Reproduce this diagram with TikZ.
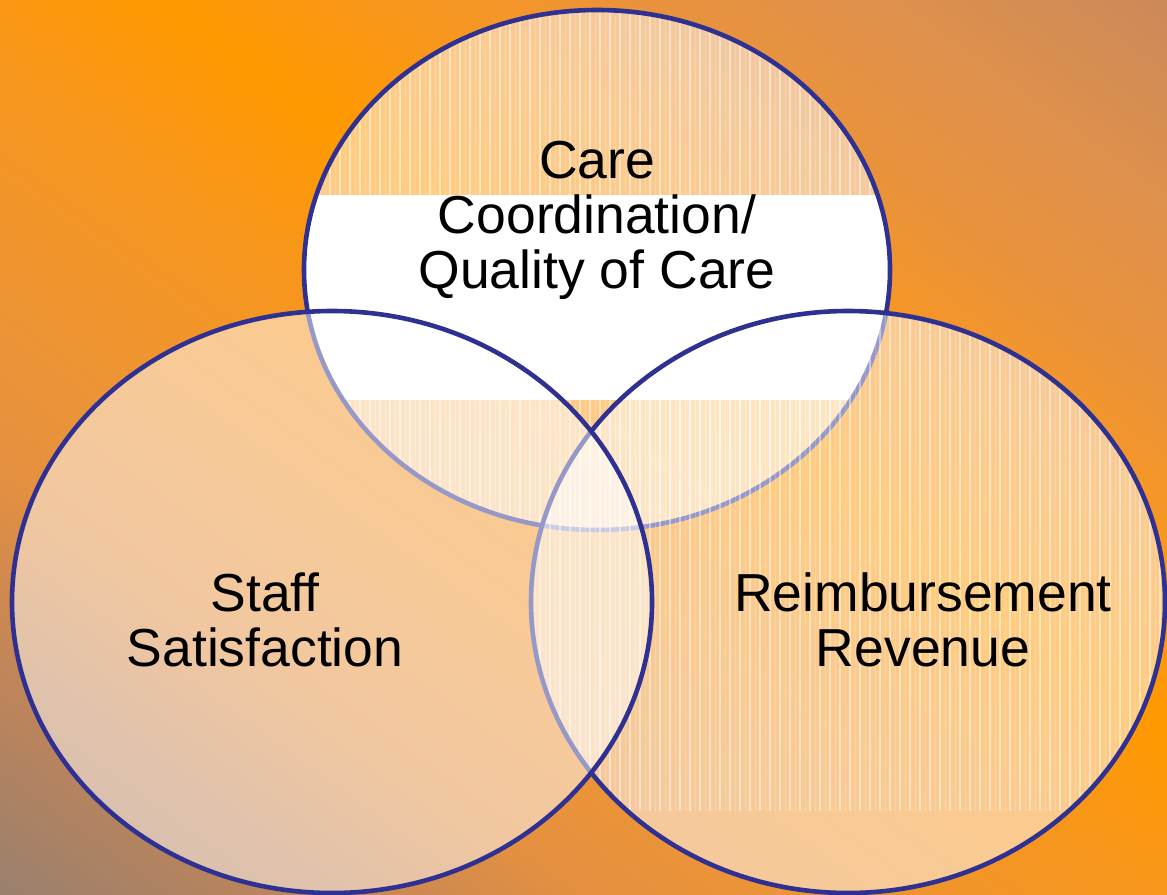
\documentclass[tikz,border=0pt]{standalone}
\usepackage{fontspec}
\setmainfont{Liberation Sans}

% outline and background colours
\definecolor{navyline}{RGB}{46,49,146}
\definecolor{bgA}{RGB}{140,126,116}
\definecolor{bgB}{RGB}{150,128,112}
\definecolor{bgC}{RGB}{175,130,98}
\definecolor{bgD}{RGB}{200,135,85}
\definecolor{bgE}{RGB}{228,144,64}
\definecolor{bgF}{RGB}{236,148,54}
\definecolor{bgG}{RGB}{247,150,30}
\definecolor{bgH}{RGB}{255,153,0}
\definecolor{bgI}{RGB}{245,150,40}
\definecolor{bgJ}{RGB}{232,146,60}
\definecolor{bgK}{RGB}{225,145,75}
\definecolor{bgL}{RGB}{205,138,88}
\definecolor{bgM}{RGB}{195,135,95}

% diagonal backdrop gradient, laid out along its own axis
\pgfdeclarehorizontalshading{backdrop}{1640pt}{%
  color(0pt)=(bgA); color(96pt)=(bgB); color(220pt)=(bgC);
  color(334pt)=(bgD); color(460pt)=(bgE); color(580pt)=(bgF);
  color(780pt)=(bgG); color(934pt)=(bgH); color(1120pt)=(bgI);
  color(1220pt)=(bgJ); color(1340pt)=(bgK); color(1505pt)=(bgL);
  color(1640pt)=(bgM)}

\tikzset{
  ring/.style={draw=navyline, line width=4.6pt},
  veil/.style={fill=white, fill opacity=0.5},
  stripe/.style={draw=white, line width=1.3pt, draw opacity=0.45},
  faintstripe/.style={draw=white, line width=0.8pt, draw opacity=0.2},
  venntext/.style={font=\fontsize{53.5}{55}\selectfont, align=center,
                   inner sep=0pt, anchor=north, text=black},
}

\begin{document}
\begin{tikzpicture}[x=1pt, y=-1pt]
\useasboundingbox (0,0) rectangle (1167,894);
\begin{scope}
\clip (0,0) rectangle (1167,894);

% backdrop
\node[inner sep=0pt, rotate=54.1] (backdrop) at (583.5,447) {\pgfuseshading{backdrop}};

% --- upper circle: care coordination ---
\fill[veil] (597,270) ellipse [x radius=293, y radius=260];
\begin{scope}
  \clip (597,270) ellipse [x radius=293, y radius=260];
  \foreach \x in {300,310,...,900} {
    \draw[stripe] (\x,0) -- (\x,195);
    \draw[stripe] (\x,400) -- (\x,540);
  }
  \foreach \x in {305,315,...,895} {
    \draw[faintstripe] (\x,0) -- (\x,195);
    \draw[faintstripe] (\x,400) -- (\x,540);
  }
  \fill[white] (290,195) rectangle (900,400);
\end{scope}
\draw[ring] (597,270) ellipse [x radius=293, y radius=260];

% --- lower right circle: reimbursement ---
\fill[veil] (848,602) ellipse [x radius=317, y radius=291];
\begin{scope}
  \clip (848,602) ellipse [x radius=317, y radius=291];
  \foreach \x in {530,540,...,1170} {
    \draw[stripe] (\x,300) -- (\x,811);
  }
  \foreach \x in {535,545,...,1165} {
    \draw[faintstripe] (\x,300) -- (\x,811);
  }
\end{scope}
\draw[ring] (848,602) ellipse [x radius=317, y radius=291];

% --- lower left circle: staff ---
\fill[veil] (332,602) ellipse [x radius=320, y radius=291];
\draw[ring] (332,602) ellipse [x radius=320, y radius=291];
\end{scope}

% labels
\node[venntext] (care)  at (597,141) {Care\\Coordination/\\Quality of Care};
\node[venntext] (staff) at (265,573) {Staff\\Satisfaction};
\node[venntext] (money) at (923,573) {Reimbursement\\Revenue};
\end{tikzpicture}
\end{document}
